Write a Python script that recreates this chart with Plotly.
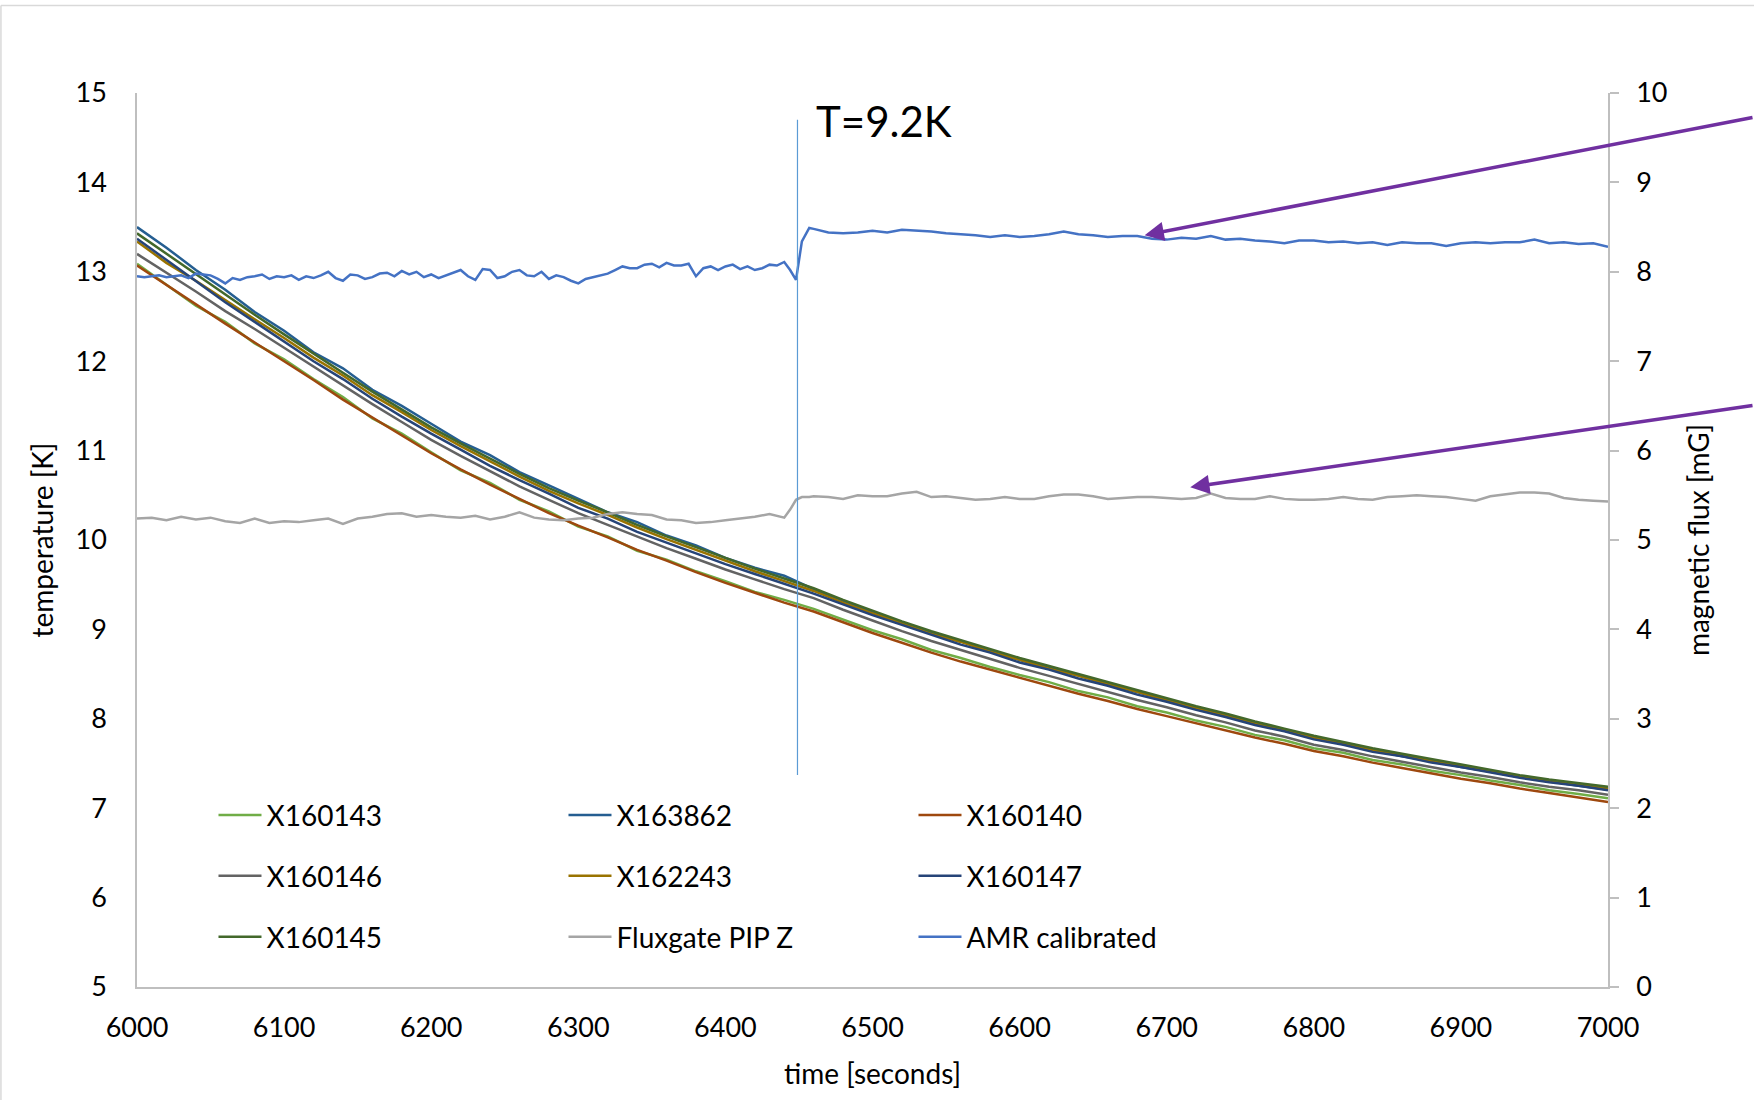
import plotly.graph_objects as go

# ---------------- data ----------------
T_TIME = list(range(6000, 7001, 20))

X160143 = [13.09, 12.86, 12.62, 12.44, 12.20, 12.02, 11.80, 11.60, 11.36, 11.19,
           10.98, 10.78, 10.64, 10.45, 10.32, 10.15, 10.04, 9.88, 9.78, 9.65,
           9.54, 9.42, 9.33, 9.23, 9.11, 8.99, 8.89, 8.77, 8.68, 8.58,
           8.49, 8.41, 8.31, 8.24, 8.14, 8.07, 7.98, 7.91, 7.82, 7.76,
           7.67, 7.62, 7.54, 7.49, 7.42, 7.37, 7.31, 7.26, 7.20, 7.16, 7.11]
X163862 = [13.50, 13.27, 13.02, 12.80, 12.55, 12.34, 12.10, 11.92, 11.68, 11.50,
           11.30, 11.10, 10.95, 10.76, 10.61, 10.46, 10.31, 10.20, 10.05, 9.94,
           9.80, 9.69, 9.60, 9.45, 9.32, 9.19, 9.08, 8.96, 8.87, 8.76,
           8.66, 8.57, 8.49, 8.38, 8.30, 8.21, 8.12, 8.03, 7.96, 7.87,
           7.79, 7.72, 7.65, 7.58, 7.53, 7.46, 7.41, 7.35, 7.30, 7.25, 7.21]
X160140 = [13.07, 12.85, 12.63, 12.42, 12.21, 12.00, 11.79, 11.57, 11.37, 11.17,
           10.97, 10.79, 10.62, 10.46, 10.30, 10.16, 10.03, 9.89, 9.77, 9.64,
           9.52, 9.41, 9.30, 9.20, 9.08, 8.96, 8.85, 8.74, 8.64, 8.55,
           8.46, 8.37, 8.28, 8.20, 8.11, 8.03, 7.95, 7.87, 7.79, 7.72,
           7.64, 7.58, 7.51, 7.45, 7.39, 7.33, 7.28, 7.22, 7.17, 7.12, 7.07]
X160146 = [13.20, 12.99, 12.78, 12.56, 12.36, 12.15, 11.94, 11.73, 11.52, 11.32,
           11.12, 10.94, 10.77, 10.60, 10.45, 10.30, 10.17, 10.04, 9.91, 9.79,
           9.67, 9.56, 9.45, 9.35, 9.22, 9.10, 8.98, 8.87, 8.77, 8.67,
           8.57, 8.48, 8.39, 8.30, 8.21, 8.13, 8.04, 7.96, 7.87, 7.80,
           7.71, 7.65, 7.58, 7.52, 7.46, 7.40, 7.35, 7.29, 7.24, 7.20, 7.15]
X162243 = [13.34, 13.10, 12.90, 12.68, 12.47, 12.26, 12.04, 11.84, 11.62, 11.43,
           11.23, 11.05, 10.88, 10.71, 10.55, 10.41, 10.28, 10.14, 10.01, 9.89,
           9.77, 9.65, 9.54, 9.43, 9.30, 9.18, 9.07, 8.95, 8.86, 8.75,
           8.66, 8.56, 8.48, 8.39, 8.30, 8.21, 8.12, 8.04, 7.95, 7.87,
           7.79, 7.72, 7.65, 7.59, 7.53, 7.47, 7.41, 7.35, 7.30, 7.26, 7.22]
X160147 = [13.37, 13.13, 12.90, 12.66, 12.44, 12.22, 12.00, 11.80, 11.58, 11.38,
           11.19, 11.01, 10.83, 10.67, 10.52, 10.36, 10.24, 10.09, 9.97, 9.85,
           9.73, 9.62, 9.51, 9.40, 9.28, 9.16, 9.05, 8.94, 8.83, 8.74,
           8.63, 8.55, 8.45, 8.37, 8.27, 8.19, 8.10, 8.02, 7.93, 7.86,
           7.77, 7.71, 7.63, 7.58, 7.51, 7.46, 7.40, 7.34, 7.29, 7.25, 7.20]
X160145 = [13.43, 13.20, 12.97, 12.74, 12.52, 12.30, 12.08, 11.87, 11.66, 11.46,
           11.26, 11.08, 10.91, 10.74, 10.58, 10.44, 10.31, 10.17, 10.04, 9.92,
           9.80, 9.68, 9.57, 9.46, 9.33, 9.21, 9.09, 8.98, 8.88, 8.78,
           8.68, 8.59, 8.50, 8.41, 8.32, 8.23, 8.14, 8.06, 7.97, 7.89,
           7.81, 7.74, 7.67, 7.61, 7.55, 7.49, 7.43, 7.37, 7.32, 7.28, 7.24]

FLUX_TIME = list(range(6000, 6441, 10)) + [6444, 6448, 6452, 6457] + list(range(6460, 7001, 10))
FLUXGATE = [5.24, 5.25, 5.22, 5.26, 5.23, 5.25, 5.21, 5.19, 5.24, 5.19,
            5.21, 5.20, 5.22, 5.24, 5.18, 5.24, 5.26, 5.29, 5.30, 5.26,
            5.28, 5.26, 5.25, 5.27, 5.23, 5.26, 5.31, 5.25, 5.23, 5.22,
            5.24, 5.25, 5.29, 5.31, 5.29, 5.28, 5.23, 5.22, 5.19, 5.20,
            5.22, 5.24, 5.26, 5.29, 5.25,
            5.34, 5.45, 5.48, 5.48,
            5.49, 5.48, 5.46, 5.50, 5.49, 5.49, 5.52, 5.54, 5.48, 5.49,
            5.47, 5.45, 5.46, 5.48, 5.46, 5.46, 5.49, 5.51, 5.51, 5.49,
            5.46, 5.47, 5.48, 5.48, 5.47, 5.46, 5.47, 5.52, 5.47, 5.46,
            5.46, 5.49, 5.46, 5.45, 5.45, 5.46, 5.48, 5.46, 5.45, 5.48,
            5.49, 5.50, 5.49, 5.48, 5.46, 5.44, 5.49, 5.51, 5.53, 5.53,
            5.52, 5.47, 5.45, 5.44, 5.43]

AMR_TIME = list(range(6000, 6441, 5)) + [6444, 6448, 6452, 6457] + list(range(6460, 7001, 10))
AMR = [7.95, 7.94, 7.95, 7.96, 7.94, 7.95, 7.96, 7.93, 7.98, 7.97,
       7.96, 7.92, 7.87, 7.93, 7.91, 7.94, 7.95, 7.97, 7.92, 7.95,
       7.94, 7.96, 7.91, 7.95, 7.93, 7.96, 8.00, 7.93, 7.90, 7.97,
       7.96, 7.92, 7.94, 7.98, 7.99, 7.95, 8.01, 7.97, 8.00, 7.94,
       7.97, 7.93, 7.96, 7.99, 8.02, 7.95, 7.91, 8.03, 8.02, 7.93,
       7.95, 8.00, 8.02, 7.96, 7.95, 8.00, 7.92, 7.96, 7.94, 7.90,
       7.87, 7.92, 7.94, 7.96, 7.98, 8.02, 8.06, 8.04, 8.04, 8.08,
       8.09, 8.05, 8.10, 8.07, 8.07, 8.09, 7.95, 8.04, 8.06, 8.02,
       8.06, 8.08, 8.03, 8.06, 8.02, 8.04, 8.08, 8.07, 8.11,
       8.02, 7.91, 8.34, 8.49,
       8.48, 8.44, 8.43, 8.44, 8.46, 8.44, 8.47, 8.46, 8.45, 8.43,
       8.42, 8.41, 8.39, 8.41, 8.39, 8.40, 8.42, 8.45, 8.42, 8.41,
       8.39, 8.40, 8.40, 8.37, 8.36, 8.38, 8.37, 8.40, 8.36, 8.37,
       8.35, 8.34, 8.32, 8.35, 8.35, 8.33, 8.34, 8.32, 8.33, 8.30,
       8.33, 8.32, 8.32, 8.29, 8.32, 8.33, 8.32, 8.33, 8.33, 8.36,
       8.32, 8.33, 8.31, 8.32, 8.28]

TRANSITION_TIME = 6449
TRANSITION_LABEL = "T=9.2K"

FONT = "Lato"
AXIS_GREY = "#BFBFBF"

fig = go.Figure()

temp_series = [
    ("X160143", X160143, "#70AD47", "legend"),
    ("X163862", X163862, "#255E91", "legend"),
    ("X160140", X160140, "#9E480E", "legend"),
    ("X160146", X160146, "#636363", "legend2"),
    ("X162243", X162243, "#997300", "legend2"),
    ("X160147", X160147, "#264478", "legend2"),
    ("X160145", X160145, "#43682B", "legend3"),
]
for name, vals, color, leg in temp_series:
    fig.add_trace(go.Scatter(x=T_TIME, y=vals, name=name, mode="lines",
                             line=dict(color=color, width=2.5), legend=leg,
                             yaxis="y"))

fig.add_trace(go.Scatter(x=FLUX_TIME, y=FLUXGATE, name="Fluxgate PIP Z", mode="lines",
                         line=dict(color="#A5A5A5", width=2.5), legend="legend3",
                         yaxis="y2"))
fig.add_trace(go.Scatter(x=AMR_TIME, y=AMR, name="AMR calibrated", mode="lines",
                         line=dict(color="#4472C4", width=2.5), legend="legend3",
                         yaxis="y2"))

tick_font = dict(family=FONT, size=27, color="#000000")
title_font = dict(family=FONT, size=28, color="#000000")

def legend_row(ypos):
    return dict(orientation="h", x=0.052, xanchor="left", y=ypos, yanchor="middle",
                entrywidth=292, entrywidthmode="pixels",
                font=dict(family=FONT, size=28, color="#000"),
                bgcolor="rgba(0,0,0,0)", traceorder="normal", itemwidth=43)

fig.update_layout(
    width=1754, height=1100,
    margin=dict(l=137, r=146, t=93, b=113),
    paper_bgcolor="white", plot_bgcolor="white",
    showlegend=True,
    legend=legend_row(0.192),
    legend2=legend_row(0.124),
    legend3=legend_row(0.056),
    xaxis=dict(range=[6000, 7000], tick0=6000, dtick=100, showgrid=False, zeroline=False,
               showline=True, linecolor=AXIS_GREY, linewidth=1.5, ticks="",
               ticklabelstandoff=16, tickfont=tick_font,
               title=dict(text="time [seconds]", font=title_font, standoff=22)),
    yaxis=dict(range=[5, 15], tick0=5, dtick=1, showgrid=False, zeroline=False,
               showline=True, linecolor=AXIS_GREY, linewidth=1.5, ticks="",
               ticklabelstandoff=23, tickfont=tick_font,
               title=dict(text="temperature [K]", font=title_font, standoff=14)),
    yaxis2=dict(range=[0, 10], tick0=0, dtick=1, overlaying="y", side="right", anchor="x",
                showgrid=False, zeroline=False, showline=True, linecolor=AXIS_GREY,
                linewidth=1.5, ticks="outside", ticklen=9, tickcolor=AXIS_GREY, tickwidth=1.5,
                ticklabelstandoff=12, tickfont=tick_font,
                title=dict(text="magnetic flux [mG]", font=title_font, standoff=23)),
)

# transition marker
fig.add_shape(type="line", xref="x", yref="y", x0=TRANSITION_TIME, x1=TRANSITION_TIME,
              y0=7.37, y1=14.7, line=dict(color="#5B9BD5", width=1.2))
fig.add_annotation(x=6460, y=14.69, xref="x", yref="y", text=TRANSITION_LABEL,
                   showarrow=False, xanchor="left", yanchor="middle",
                   font=dict(family=FONT, size=42, color="#000"))

# arrows pointing at AMR and fluxgate curves
fig.add_annotation(x=6685, y=8.41, xref="x", yref="y2", ax=612, ay=-118,
                   showarrow=True, arrowhead=2, arrowsize=1.1, arrowwidth=3.5,
                   arrowcolor="#7030A0", text="", standoff=0)
fig.add_annotation(x=6716, y=5.59, xref="x", yref="y2", ax=566, ay=-82,
                   showarrow=True, arrowhead=2, arrowsize=1.1, arrowwidth=3.5,
                   arrowcolor="#7030A0", text="", standoff=0)

# outer chart frame (top and left edges visible)
fig.add_shape(type="line", xref="paper", yref="paper", x0=-0.0925, x1=1.2,
              y0=1.0979, y1=1.0979, line=dict(color="#D9D9D9", width=1.5))
fig.add_shape(type="line", xref="paper", yref="paper", x0=-0.0925, x1=-0.0925,
              y0=-0.2, y1=1.0979, line=dict(color="#D9D9D9", width=1.5))

fig.write_html("out.html", config={"displayModeBar": False},
               post_script="document.body.style.margin='0';")
